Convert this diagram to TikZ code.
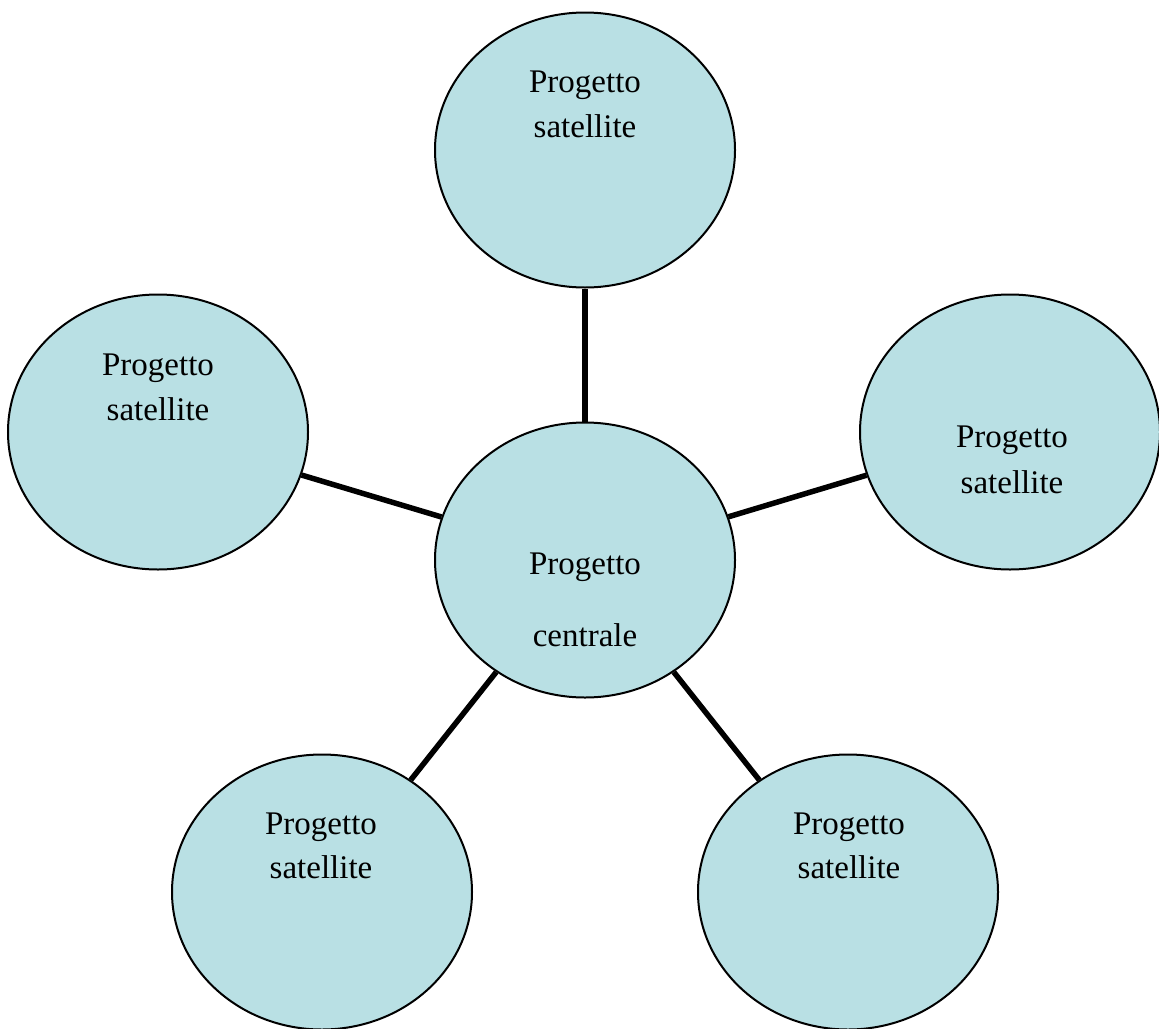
\documentclass[tikz,border=0pt]{standalone}
\usepackage{fontspec}
\setmainfont{Liberation Serif}
\usetikzlibrary{shapes.geometric}
\definecolor{sat}{RGB}{185,224,228}
\tikzset{
  proj/.style={ellipse, draw=black, line width=2pt, fill=sat, minimum width=300pt, minimum height=275pt, inner sep=0pt},
  lbl/.style={anchor=base, font=\fontsize{33}{38}\selectfont, inner sep=0pt},
  link/.style={line width=5.5pt, black}
}
\begin{document}
\begin{tikzpicture}[x=1pt,y=-1pt]
\useasboundingbox (0,0) rectangle (1159,1028);
% ellipses
\node[proj] (c)  at (585,560) {};
\node[proj] (t)  at (585,150) {};
\node[proj] (l)  at (158,432) {};
\node[proj] (r)  at (1010,432) {};
\node[proj] (bl) at (322,892) {};
\node[proj] (br) at (848,892) {};
% connectors
\draw[link] (c) -- (t);
\draw[link] (c) -- (l);
\draw[link] (c) -- (r);
\draw[link] (c) -- (bl);
\draw[link] (c) -- (br);
% labels
\node[lbl] (c1) at (585,574) {Progetto};
\node[lbl] (c2) at (585,646) {centrale};
\node[lbl] (t1) at (585,92) {Progetto};
\node[lbl] (t2) at (585,137) {satellite};
\node[lbl] (l1) at (158,375) {Progetto};
\node[lbl] (l2) at (158,420) {satellite};
\node[lbl] (r1) at (1012,447) {Progetto};
\node[lbl] (r2) at (1012,493) {satellite};
\node[lbl] (bl1) at (321,834) {Progetto};
\node[lbl] (bl2) at (321,878) {satellite};
\node[lbl] (br1) at (849,834) {Progetto};
\node[lbl] (br2) at (849,878) {satellite};
\end{tikzpicture}
\end{document}
